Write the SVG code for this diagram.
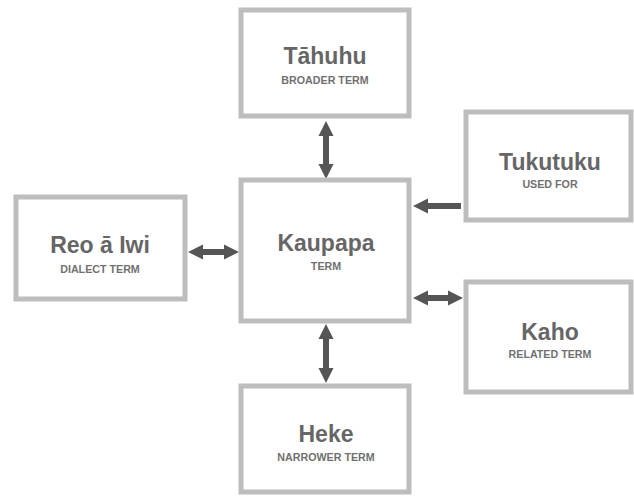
<svg xmlns="http://www.w3.org/2000/svg" width="634" height="497" viewBox="0 0 634 497">
<style>
.box{fill:#fff;stroke:#bdbdbd;stroke-width:5}
.t{font-family:"Liberation Sans",Arial,sans-serif;font-weight:bold;font-size:23px;fill:#666;text-anchor:middle}
.s{font-family:"Liberation Sans",Arial,sans-serif;font-weight:bold;font-size:10.7px;fill:#707070;text-anchor:middle}
.c{stroke:#555;stroke-width:6;fill:none}
</style>
<defs>
<marker id="ah" viewBox="0 0 16 16" markerWidth="16" markerHeight="16" refX="8" refY="8" orient="auto-start-reverse" markerUnits="userSpaceOnUse">
<path d="M0,0.5 L15,8 L0,15.5 z" fill="#555"/>
</marker>
</defs>
<rect width="634" height="497" fill="#fff"/>
<g id="connectors">
<line class="c" x1="326" y1="128" x2="326" y2="172" marker-start="url(#ah)" marker-end="url(#ah)"/>
<line class="c" x1="326" y1="331" x2="326" y2="376" marker-start="url(#ah)" marker-end="url(#ah)"/>
<line class="c" x1="195" y1="252" x2="232" y2="252" marker-start="url(#ah)" marker-end="url(#ah)"/>
<line class="c" x1="461" y1="206" x2="420" y2="206" marker-end="url(#ah)"/>
<line class="c" x1="420" y1="298" x2="456" y2="298" marker-start="url(#ah)" marker-end="url(#ah)"/>
</g>
<g id="tahuhu">
<rect class="box" x="241" y="10" width="168" height="106"/>
<text class="t" x="325" y="64">Tāhuhu</text>
<text class="s" x="325" y="84">BROADER TERM</text>
</g>
<g id="kaupapa">
<rect class="box" x="241" y="180" width="168" height="141"/>
<text class="t" x="326" y="251">Kaupapa</text>
<text class="s" x="326" y="270">TERM</text>
</g>
<g id="heke">
<rect class="box" x="241" y="386" width="168" height="106"/>
<text class="t" x="326" y="442">Heke</text>
<text class="s" x="326" y="461">NARROWER TERM</text>
</g>
<g id="reo-a-iwi">
<rect class="box" x="16" y="197" width="169" height="102"/>
<text class="t" x="100" y="253">Reo ā Iwi</text>
<text class="s" x="100" y="273">DIALECT TERM</text>
</g>
<g id="tukutuku">
<rect class="box" x="466" y="112" width="165" height="108"/>
<text class="t" x="550" y="170">Tukutuku</text>
<text class="s" x="550" y="188">USED FOR</text>
</g>
<g id="kaho">
<rect class="box" x="466" y="282" width="165" height="110"/>
<text class="t" x="550" y="340">Kaho</text>
<text class="s" x="550" y="358">RELATED TERM</text>
</g>
</svg>
